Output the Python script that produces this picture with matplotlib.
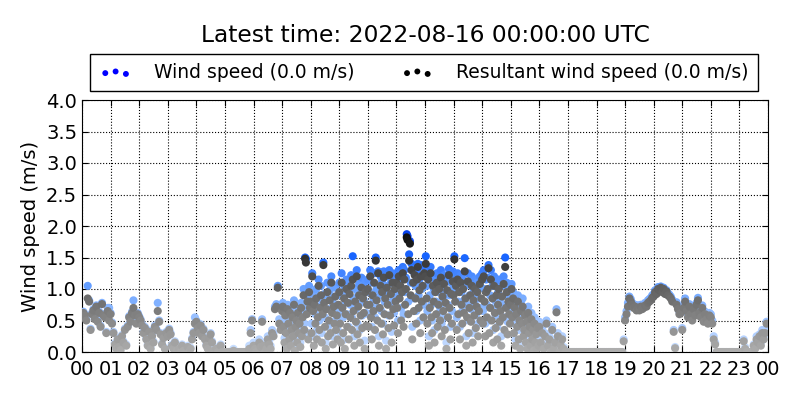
import numpy as np
import matplotlib
matplotlib.use('Agg')
import matplotlib.pyplot as plt
from matplotlib.colors import LinearSegmentedColormap

# wind data, one row per hour (m/s), samples evenly spread over the hour
resultant_speed = [
    [0.55, 0.62, 0.58, 0.50, 0.85, 0.80, 0.35, 0.60, 0.66, 0.52, 0.72, 0.48, 0.62, 0.40, 0.76, 0.58, 0.55, 0.30, 0.65, 0.50],
    [0.60, 0.45, 0.30, 0.12, 0.05, 0.20, 0.08, 0.03, 0.25, 0.15, 0.35, 0.10, 0.40, 0.55, 0.48, 0.62, 0.70, 0.58, 0.45, 0.60],
    [0.55, 0.50, 0.42, 0.30, 0.38, 0.20, 0.10, 0.32, 0.05, 0.25, 0.15, 0.40, 0.35, 0.65, 0.48, 0.28, 0.12, 0.22, 0.05, 0.30],
    [0.25, 0.35, 0.28, 0.10, 0.05, 0.15, 0.02, 0.00, 0.05, 0.00, 0.10, 0.02, 0.00, 0.00, 0.08, 0.00, 0.05, 0.20, 0.30, 0.45],
    [0.48, 0.38, 0.30, 0.42, 0.25, 0.35, 0.20, 0.10, 0.05, 0.22, 0.28, 0.15, 0.02, 0.00, 0.05, 0.00, 0.00, 0.10, 0.00, 0.00],
    [0.00, 0.00, 0.00, 0.00, 0.00, 0.00, 0.02, 0.00, 0.00, 0.00, 0.00, 0.00, 0.00, 0.00, 0.00, 0.00, 0.00, 0.05, 0.30, 0.50],
    [0.10, 0.05, 0.00, 0.02, 0.15, 0.08, 0.48, 0.10, 0.00, 0.05, 0.20, 0.12, 0.05, 0.30, 0.25, 0.68, 0.72, 1.02, 0.45, 0.35],
    [0.65, 0.72, 0.40, 0.15, 0.58, 0.30, 0.05, 0.68, 0.45, 0.20, 0.62, 0.10, 0.35, 0.55, 0.25, 0.75, 0.02, 0.40,
     0.50, 0.15, 0.62, 0.30, 0.45, 0.08, 0.70, 0.25, 0.55, 0.90, 0.35, 1.48, 1.42, 0.60, 0.80, 0.20, 0.95, 0.70],
    [0.80, 0.30, 1.20, 0.65, 0.10, 0.75, 0.45, 0.85, 0.20, 0.55, 1.05, 0.35, 0.70, 0.90, 0.15, 0.60, 1.38, 0.78,
     0.40, 0.05, 0.68, 0.95, 0.25, 0.50, 0.82, 0.30, 1.10, 0.62, 0.12, 0.72, 0.45, 0.88, 0.35, 0.58, 0.20, 0.75],
    [0.95, 0.45, 0.15, 1.10, 0.70, 0.30, 0.85, 0.05, 0.60, 1.00, 0.40, 0.78, 0.20, 0.92, 0.55, 1.05, 0.35, 1.15,
     0.65, 0.10, 0.80, 0.48, 1.20, 0.28, 0.72, 0.90, 0.15, 0.58, 1.02, 0.38, 0.85, 0.62, 0.05, 0.95, 0.42, 0.75],
    [1.00, 0.40, 0.75, 1.20, 0.55, 0.20, 0.90, 0.65, 1.10, 0.35, 1.45, 0.82, 0.50, 1.25, 0.10, 0.70, 1.05, 0.45,
     0.95, 0.28, 1.18, 0.60, 0.85, 0.05, 1.02, 0.75, 0.38, 1.22, 0.58, 0.92, 0.15, 1.10, 0.68, 0.42, 1.00, 0.80],
    [1.10, 0.70, 0.30, 1.20, 0.85, 1.05, 0.50, 0.95, 1.25, 0.40, 1.15, 0.75, 1.00, 1.82, 1.78, 0.60, 1.45, 1.72,
     0.90, 1.30, 0.20, 1.10, 0.65, 1.22, 0.85, 0.45, 1.15, 1.35, 0.70, 0.98, 0.30, 1.20, 0.80, 1.05, 0.55, 1.25],
    [1.20, 1.40, 0.85, 0.45, 1.15, 0.10, 0.70, 1.25, 0.55, 0.30, 1.05, 0.80, 0.15, 0.95, 0.60, 1.10, 0.40, 0.75,
     1.00, 0.50, 1.18, 0.25, 0.88, 0.65, 1.08, 0.35, 0.78, 0.05, 0.98, 0.55, 1.22, 0.70, 0.20, 0.92, 0.45, 1.12],
    [0.90, 1.47, 0.80, 1.05, 0.35, 1.15, 0.60, 0.95, 0.20, 1.10, 0.75, 0.45, 1.00, 0.62, 1.28, 0.85, 0.10, 0.55,
     1.12, 0.30, 0.70, 0.90, 0.48, 1.05, 0.15, 0.82, 0.58, 1.00, 0.38, 0.72, 0.95, 0.25, 0.65, 1.08, 0.50, 0.85],
    [1.15, 0.45, 1.20, 0.80, 0.25, 0.95, 0.55, 1.00, 1.33, 0.30, 0.70, 1.15, 0.50, 0.85, 0.15, 1.05, 0.62, 0.38,
     0.90, 0.20, 0.75, 1.00, 0.48, 0.65, 0.10, 0.88, 0.55, 1.08, 0.35, 1.35, 0.70, 0.95, 0.28, 0.80, 0.60, 0.45],
    [0.75, 1.00, 0.55, 0.85, 0.30, 0.70, 0.10, 0.60, 0.40, 0.80, 0.20, 0.50, 0.05, 0.65, 0.45, 0.72, 0.25, 0.35,
     0.58, 0.15, 0.48, 0.05, 0.62, 0.30, 0.40, 0.10, 0.52, 0.20, 0.35, 0.02, 0.45, 0.15, 0.28, 0.05, 0.38, 0.10],
    [0.40, 0.15, 0.30, 0.05, 0.25, 0.45, 0.10, 0.20, 0.00, 0.35, 0.05, 0.15, 0.63, 0.25, 0.00, 0.10, 0.20, 0.05, 0.00, 0.00],
    [0.00, 0.00, 0.00, 0.00, 0.00, 0.00, 0.00, 0.00, 0.00, 0.00, 0.00, 0.00, 0.00, 0.00, 0.00, 0.00, 0.00, 0.00, 0.00, 0.00],
    [0.00, 0.00, 0.00, 0.00, 0.00, 0.00, 0.00, 0.00, 0.00, 0.00, 0.00, 0.00, 0.00, 0.00, 0.00, 0.00, 0.00, 0.00, 0.00, 0.17],
    [0.50, 0.60, 0.72, 0.85, 0.80, 0.75, 0.70, 0.72, 0.66, 0.70, 0.66, 0.72, 0.68, 0.70, 0.74, 0.72, 0.78, 0.80, 0.82, 0.86],
    [0.88, 0.95, 0.92, 1.00, 0.98, 1.02, 0.95, 1.00, 0.92, 0.96, 0.90, 0.88, 0.85, 0.80, 0.32, 0.06, 0.75, 0.68, 0.60, 0.62],
    [0.35, 0.70, 0.80, 0.65, 0.55, 0.72, 0.60, 0.50, 0.68, 0.58, 0.75, 0.82, 0.62, 0.55, 0.70, 0.48, 0.60, 0.52, 0.45, 0.58],
    [0.55, 0.45, 0.20, 0.12, 0.00, 0.00, 0.00, 0.00, 0.00, 0.00, 0.00, 0.00, 0.00, 0.00, 0.00, 0.00, 0.00, 0.00, 0.00, 0.00],
    [0.00, 0.00, 0.00, 0.17, 0.05, 0.00, 0.00, 0.00, 0.00, 0.00, 0.10, 0.05, 0.20, 0.15, 0.25, 0.10, 0.30, 0.20, 0.30, 0.45],
]

wind_speed = [
    [0.57, 0.64, 0.60, 0.52, 1.05, 0.82, 0.37, 0.62, 0.68, 0.54, 0.74, 0.50, 0.64, 0.42, 0.78, 0.60, 0.57, 0.32, 0.70, 0.70],
    [0.62, 0.47, 0.32, 0.14, 0.07, 0.22, 0.10, 0.05, 0.27, 0.17, 0.37, 0.12, 0.42, 0.57, 0.50, 0.64, 0.82, 0.60, 0.47, 0.62],
    [0.57, 0.52, 0.44, 0.32, 0.40, 0.22, 0.12, 0.34, 0.07, 0.27, 0.17, 0.42, 0.37, 0.78, 0.50, 0.30, 0.14, 0.24, 0.07, 0.32],
    [0.27, 0.37, 0.30, 0.12, 0.07, 0.17, 0.04, 0.00, 0.07, 0.00, 0.12, 0.04, 0.00, 0.00, 0.10, 0.00, 0.07, 0.22, 0.32, 0.55],
    [0.50, 0.40, 0.32, 0.44, 0.27, 0.37, 0.22, 0.12, 0.07, 0.24, 0.30, 0.17, 0.04, 0.00, 0.07, 0.00, 0.00, 0.12, 0.00, 0.00],
    [0.00, 0.00, 0.00, 0.00, 0.00, 0.00, 0.05, 0.00, 0.00, 0.00, 0.00, 0.00, 0.00, 0.00, 0.00, 0.00, 0.00, 0.10, 0.35, 0.52],
    [0.15, 0.10, 0.00, 0.05, 0.20, 0.12, 0.52, 0.15, 0.00, 0.10, 0.25, 0.18, 0.10, 0.35, 0.30, 0.72, 0.76, 1.05, 0.52, 0.42],
    [0.72, 0.78, 0.50, 0.22, 0.66, 0.40, 0.10, 0.75, 0.55, 0.30, 0.70, 0.18, 0.45, 0.62, 0.35, 0.82, 0.05, 0.50,
     0.58, 0.25, 0.70, 0.40, 0.55, 0.15, 0.78, 0.35, 0.65, 1.00, 0.45, 1.50, 1.48, 0.70, 0.90, 0.30, 1.05, 0.80],
    [0.95, 0.45, 1.25, 0.80, 0.25, 0.90, 0.60, 1.00, 0.35, 0.72, 1.15, 0.50, 0.85, 1.05, 0.30, 0.78, 1.42, 0.92,
     0.55, 0.15, 0.85, 1.10, 0.40, 0.68, 0.98, 0.45, 1.20, 0.80, 0.25, 0.88, 0.62, 1.02, 0.52, 0.75, 0.35, 0.90],
    [1.10, 0.65, 0.30, 1.25, 0.90, 0.55, 1.05, 0.20, 0.80, 1.15, 0.60, 0.98, 0.40, 1.10, 0.75, 1.22, 0.55, 1.52,
     0.85, 0.25, 1.00, 0.68, 1.30, 0.45, 0.92, 1.08, 0.35, 0.78, 1.18, 0.58, 1.05, 0.82, 0.18, 1.12, 0.62, 0.95],
    [1.15, 0.60, 0.95, 1.30, 0.75, 0.40, 1.10, 0.85, 1.25, 0.55, 1.50, 1.00, 0.70, 1.28, 0.25, 0.90, 1.20, 0.65,
     1.12, 0.45, 1.28, 0.80, 1.05, 0.18, 1.20, 0.95, 0.58, 1.30, 0.78, 1.10, 0.32, 1.25, 0.88, 0.62, 1.18, 1.00],
    [1.25, 0.90, 0.50, 1.30, 1.05, 1.25, 0.70, 1.15, 1.35, 0.60, 1.30, 0.95, 1.18, 1.87, 1.84, 0.80, 1.55, 1.76,
     1.10, 1.40, 0.40, 1.28, 0.85, 1.32, 1.05, 0.65, 1.30, 1.40, 0.90, 1.15, 0.50, 1.38, 1.00, 1.22, 0.75, 1.35],
    [1.35, 1.52, 1.05, 0.65, 1.28, 0.25, 0.90, 1.35, 0.75, 0.50, 1.20, 1.00, 0.35, 1.15, 0.80, 1.25, 0.60, 0.95,
     1.15, 0.70, 1.30, 0.45, 1.05, 0.85, 1.22, 0.55, 0.98, 0.15, 1.15, 0.75, 1.32, 0.90, 0.40, 1.10, 0.65, 1.28],
    [1.05, 1.52, 1.00, 1.20, 0.55, 1.25, 0.80, 1.10, 0.40, 1.22, 0.95, 0.65, 1.15, 0.82, 1.49, 1.05, 0.25, 0.75,
     1.25, 0.50, 0.90, 1.08, 0.68, 1.20, 0.30, 1.00, 0.78, 1.15, 0.58, 0.92, 1.10, 0.45, 0.85, 1.20, 0.70, 1.02],
    [1.25, 0.65, 1.30, 1.00, 0.45, 1.15, 0.75, 1.18, 1.38, 0.50, 0.90, 1.30, 0.70, 1.05, 0.35, 1.20, 0.82, 0.58,
     1.08, 0.40, 0.95, 1.15, 0.68, 0.85, 0.25, 1.05, 0.75, 1.20, 0.55, 1.50, 0.90, 1.10, 0.48, 1.00, 0.80, 0.65],
    [0.88, 1.08, 0.70, 0.95, 0.45, 0.85, 0.20, 0.75, 0.55, 0.90, 0.35, 0.65, 0.12, 0.80, 0.58, 0.85, 0.35, 0.45,
     0.70, 0.25, 0.58, 0.10, 0.72, 0.40, 0.50, 0.18, 0.62, 0.30, 0.45, 0.05, 0.55, 0.22, 0.35, 0.10, 0.48, 0.15],
    [0.48, 0.22, 0.38, 0.10, 0.30, 0.50, 0.15, 0.25, 0.00, 0.40, 0.10, 0.20, 0.68, 0.30, 0.00, 0.15, 0.25, 0.08, 0.00, 0.00],
    [0.00, 0.00, 0.00, 0.00, 0.00, 0.00, 0.00, 0.00, 0.00, 0.00, 0.00, 0.00, 0.00, 0.00, 0.00, 0.00, 0.00, 0.00, 0.00, 0.00],
    [0.00, 0.00, 0.00, 0.00, 0.00, 0.00, 0.00, 0.00, 0.00, 0.00, 0.00, 0.00, 0.00, 0.00, 0.00, 0.00, 0.00, 0.00, 0.00, 0.20],
    [0.55, 0.65, 0.78, 0.88, 0.84, 0.78, 0.74, 0.75, 0.70, 0.74, 0.70, 0.75, 0.72, 0.74, 0.78, 0.76, 0.82, 0.84, 0.86, 0.90],
    [0.92, 0.98, 0.96, 1.03, 1.00, 1.04, 0.98, 1.02, 0.95, 0.98, 0.93, 0.91, 0.88, 0.83, 0.35, 0.08, 0.79, 0.72, 0.64, 0.66],
    [0.38, 0.75, 0.85, 0.70, 0.60, 0.76, 0.65, 0.55, 0.72, 0.62, 0.78, 0.86, 0.66, 0.60, 0.74, 0.52, 0.64, 0.56, 0.50, 0.62],
    [0.60, 0.50, 0.25, 0.15, 0.00, 0.00, 0.00, 0.00, 0.00, 0.00, 0.00, 0.00, 0.00, 0.00, 0.00, 0.00, 0.00, 0.00, 0.00, 0.00],
    [0.00, 0.00, 0.00, 0.20, 0.08, 0.00, 0.00, 0.00, 0.00, 0.00, 0.12, 0.08, 0.25, 0.18, 0.28, 0.15, 0.35, 0.25, 0.35, 0.48],
]

hour_labels = ['%02d' % h for h in range(24)] + ['00']
y_ticks = [0.0, 0.5, 1.0, 1.5, 2.0, 2.5, 3.0, 3.5, 4.0]
title = 'Latest time: 2022-08-16 00:00:00 UTC'
latest_wind = 0.0
latest_resultant = 0.0

t = []
for h, row in enumerate(wind_speed):
    assert len(row) == len(resultant_speed[h])
    t.append(h + np.arange(len(row)) / float(len(row)))
t = np.concatenate(t)
wind = np.concatenate([np.array(r) for r in wind_speed])
res = np.concatenate([np.array(r) for r in resultant_speed])

# colour darkens with speed
blues = LinearSegmentedColormap.from_list('b', [(0.0, (0.80, 0.88, 1.0)), (0.5, (0.42, 0.64, 1.0)),
                                                (0.75, (0.10, 0.40, 1.0)), (1.0, (0.0, 0.2, 0.9))])
greys = LinearSegmentedColormap.from_list('g', [(0.0, (0.68, 0.68, 0.68)), (0.5, (0.38, 0.38, 0.38)),
                                                (1.0, (0.0, 0.0, 0.0))])

fig = plt.figure(figsize=(8, 4), dpi=100)
ax = fig.add_axes([82 / 800, 48 / 400, 686 / 800, 252 / 400])

ax.scatter(t, wind, c=wind, cmap=blues, vmin=0, vmax=2, s=34, edgecolors='none', zorder=3)
ax.scatter(t, res, c=res, cmap=greys, vmin=0, vmax=2, s=34, edgecolors='none', zorder=4)

h1 = ax.scatter([], [], c='blue', s=18, edgecolors='none')
h2 = ax.scatter([], [], c='black', s=18, edgecolors='none')
leg = ax.legend([h1, h2],
                ['Wind speed (%.1f m/s)' % latest_wind, 'Resultant wind speed (%.1f m/s)' % latest_resultant],
                loc='center', bbox_to_anchor=(0.4985, 1.109), borderaxespad=0, ncol=2,
                scatterpoints=3, fontsize=13.5, fancybox=False, framealpha=1, edgecolor='black',
                handlelength=1.7, handletextpad=1.2, columnspacing=2.5, borderpad=0.5)
leg.get_frame().set_linewidth(1.0)

ax.text(0.5, 1 + 65 / 252, title, ha='center', va='center', fontsize=16.8, transform=ax.transAxes)

ax.set_xlim(0, 24)
ax.set_ylim(0, 4)
ax.set_xticks(range(25))
ax.set_xticklabels(hour_labels)
ax.set_yticks(y_ticks)
ax.set_yticklabels(['%.1f' % v for v in y_ticks])
ax.tick_params(direction='in', top=True, right=True, labelsize=14, length=4)
ax.tick_params(axis='x', pad=6)
ax.set_ylabel('Wind speed (m/s)', fontsize=14)
ax.grid(True, color='black', linestyle=':', linewidth=0.8)

fig.savefig('out.png', dpi=100)
